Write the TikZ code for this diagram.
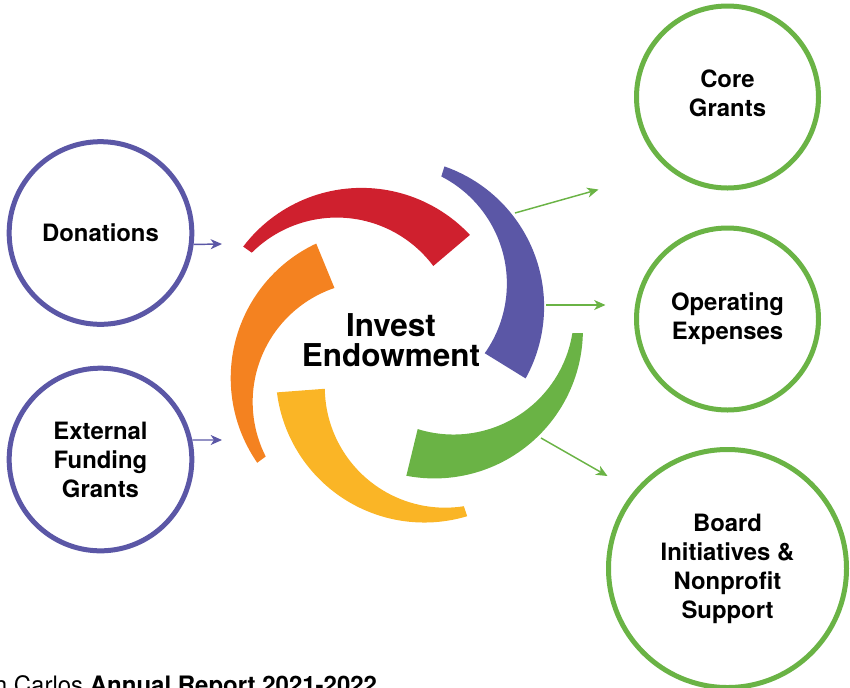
\documentclass[tikz,border=0pt]{standalone}
\usepackage{fontspec}
\setmainfont{TeX Gyre Heros}
\usetikzlibrary{arrows.meta}

\definecolor{flowpurple}{RGB}{91,87,166}
\definecolor{flowred}{RGB}{207,32,46}
\definecolor{floworange}{RGB}{244,130,32}
\definecolor{flowyellow}{RGB}{250,181,38}
\definecolor{flowgreen}{RGB}{106,179,69}

\tikzset{every picture/.style={line width=0.75pt}}
\tikzset{
  source/.style={circle, draw=flowpurple, line width=3.75pt, minimum size=137pt, align=center,
    font=\fontsize{17.9pt}{21.8pt}\selectfont\bfseries},
  target/.style={circle, draw=flowgreen, line width=3.75pt, minimum size=136.5pt, align=center,
    font=\fontsize{17.9pt}{21.8pt}\selectfont\bfseries},
  inflow/.style={flowpurple, line width=1.1pt, -{Stealth[length=8.5pt,width=7.5pt,inset=2.5pt]}},
  outflow/.style={flowgreen, line width=1.1pt, -{Stealth[length=8.5pt,width=7.5pt,inset=2.5pt]}}
}

\begin{document}
\begin{tikzpicture}[x=0.75pt,y=0.75pt,yscale=-1,xscale=1]
\useasboundingbox (0,0) rectangle (850,687);
\clip (0,0) rectangle (850,687);

%Shape: Pinwheel pieces (one piece, turned five times)
\foreach \turn/\col in {0/flowred,72/flowpurple,144/flowgreen,216/flowyellow,288/floworange}{
  \begin{scope}[shift={(399,345)},rotate=\turn]
  \fill[\col] (-155.8,-98.4) arc[start angle=-142.8,end angle=-43.1,radius=148.5]
    -- (34.3,-79) arc[start angle=-36.7,end angle=-134.9,radius=120.4] -- cycle;
  \end{scope}
}

% Text Node
\node[font=\fontsize{23.6pt}{22.5pt}\selectfont\bfseries, align=center] (invest) at (391,340) {Invest\\Endowment};

%Shape: Circles
\node[source] (don) at (100.5,233) {Donations};
\node[source] (ext) at (100.5,459.5) {External\\Funding\\Grants};
\node[target] (core) at (727.5,97) {Core\\Grants\rule[-6pt]{0pt}{6pt}};
\node[target] (oper) at (727.5,319) {Operating\\Expenses};
\node[target, minimum size=178.5pt] (board) at (727.5,568.5) {Board\\Initiatives \&\\Nonprofit\\Support};

%Straight Lines
\coordinate (don-in) at (222,244);
\coordinate (ext-in) at (222,440);
\draw[inflow] (don.-7) -- (don-in);
\draw[inflow] (ext.12) -- (ext-in);

\coordinate (blue-a) at (515,213);
\coordinate (blue-b) at (546,305);
\coordinate (green-a) at (541,438);
\coordinate (core-in) at (598.5,189.5);
\coordinate (oper-in) at (605.5,305);
\coordinate (board-in) at (607.5,476);
\draw[outflow] (blue-a) -- (core-in);
\draw[outflow] (blue-b) -- (oper-in);
\draw[outflow] (green-a) -- (board-in);

% Text Node
\node[anchor=base west, font=\fontsize{18pt}{21pt}\selectfont, inner sep=0pt] (footer) at (-36,693.6) {San Carlos \textbf{Annual Report 2021-2022}};

\end{tikzpicture}
\end{document}
